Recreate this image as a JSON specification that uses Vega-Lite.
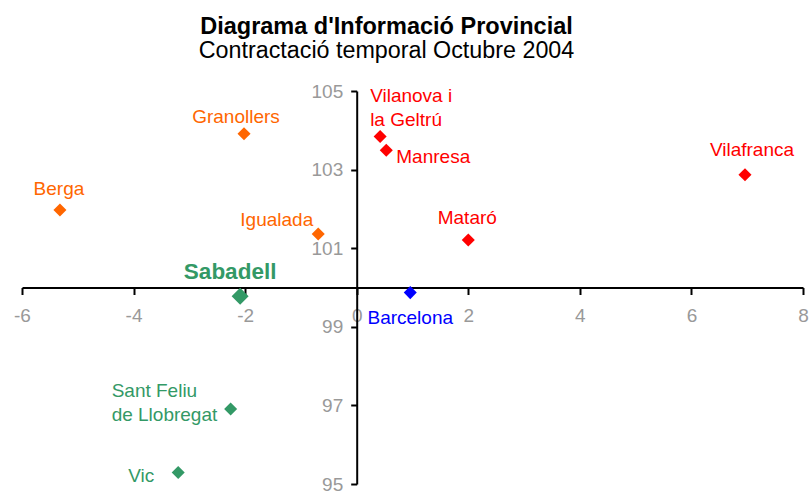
{
  "$schema": "https://vega.github.io/schema/vega-lite/v6.json",
  "width": 781,
  "height": 393,
  "autosize": {"type": "none"},
  "padding": {"left": 22, "top": 91, "right": 8, "bottom": 8},
  "background": "white",
  "title": {
    "text": "Diagrama d'Informació Provincial",
    "subtitle": "Contractació temporal Octubre 2004",
    "font": "Liberation Sans",
    "subtitleFont": "Liberation Sans",
    "fontSize": 23.5,
    "subtitleFontSize": 23.3,
    "fontWeight": "bold",
    "color": "black",
    "subtitleColor": "black",
    "anchor": "middle",
    "frame": "group",
    "dx": -26,
    "offset": 19.5,
    "subtitlePadding": 2
  },
  "config": {"view": {"stroke": null}, "font": "Liberation Sans"},
  "data": {
    "values": [
      {"nom": "Granollers", "x": -2.02, "y": 103.91, "grup": "A"},
      {"nom": "Berga", "x": -5.32, "y": 101.97, "grup": "A"},
      {"nom": "Igualada", "x": -0.69, "y": 101.36, "grup": "A"},
      {"nom": "Vilanova i\nla Geltrú", "x": 0.42, "y": 103.84, "grup": "B"},
      {"nom": "Manresa", "x": 0.53, "y": 103.49, "grup": "B"},
      {"nom": "Mataró", "x": 2.0, "y": 101.21, "grup": "B"},
      {"nom": "Vilafranca", "x": 6.96, "y": 102.87, "grup": "B"},
      {"nom": "Barcelona", "x": 0.96, "y": 99.87, "grup": "C"},
      {"nom": "Sabadell", "x": -2.09, "y": 99.78, "grup": "D"},
      {"nom": "Sant Feliu\nde Llobregat", "x": -2.26, "y": 96.91, "grup": "D"},
      {"nom": "Vic", "x": -3.2, "y": 95.29, "grup": "D"}
    ]
  },
  "encoding": {
    "x": {
      "field": "x",
      "type": "quantitative",
      "scale": {"domain": [-6, 8], "nice": false, "zero": false},
      "axis": {
        "orient": "bottom",
        "offset": -196.5,
        "values": [-6, -4, -2, 0, 2, 4, 6, 8],
        "labelExpr": "replace(datum.label, '\u2212', '-')",
        "grid": false,
        "title": null,
        "domainColor": "black",
        "domainWidth": 2,
        "tickColor": "black",
        "tickWidth": 2,
        "tickSize": 7,
        "labelColor": "#999999",
        "labelFont": "Liberation Sans",
        "labelFontSize": 19,
        "labelPadding": 12,
        "labelFlush": false,
        "labelOverlap": false
      }
    },
    "y": {
      "field": "y",
      "type": "quantitative",
      "scale": {"domain": [95, 105], "nice": false, "zero": false},
      "axis": {
        "orient": "left",
        "offset": -334.7,
        "values": [95, 97, 99, 101, 103, 105],
        "grid": false,
        "title": null,
        "domainColor": "black",
        "domainWidth": 2,
        "tickColor": "black",
        "tickWidth": 2,
        "tickSize": 6,
        "labelColor": "#999999",
        "labelFont": "Liberation Sans",
        "labelFontSize": 19,
        "labelPadding": 8,
        "labelFlush": false,
        "labelOverlap": false
      }
    },
    "color": {
      "field": "grup",
      "type": "nominal",
      "scale": {"domain": ["A", "B", "C", "D"], "range": ["#FF6600", "#FF0000", "#0000FF", "#339966"]},
      "legend": null
    }
  },
  "layer": [
    {
      "transform": [{"filter": "datum.nom !== 'Sabadell'"}],
      "mark": {"type": "point", "shape": "diamond", "filled": true, "opacity": 1, "size": 170}
    },
    {
      "transform": [{"filter": "datum.nom === 'Sabadell'"}],
      "mark": {"type": "point", "shape": "diamond", "filled": true, "opacity": 1, "size": 290}
    },
    {
      "transform": [{"filter": "datum.nom === 'Granollers'"}],
      "mark": {"type": "text", "align": "center", "baseline": "alphabetic", "dx": -8, "dy": -11, "fontSize": 19},
      "encoding": {"text": {"field": "nom"}}
    },
    {
      "transform": [{"filter": "datum.nom === 'Berga'"}],
      "mark": {"type": "text", "align": "center", "baseline": "alphabetic", "dx": -1, "dy": -15, "fontSize": 19},
      "encoding": {"text": {"field": "nom"}}
    },
    {
      "transform": [{"filter": "datum.nom === 'Igualada'"}],
      "mark": {"type": "text", "align": "right", "baseline": "alphabetic", "dx": -5, "dy": -8, "fontSize": 19},
      "encoding": {"text": {"field": "nom"}}
    },
    {
      "transform": [{"filter": "indexof(datum.nom, 'Vilanova') === 0"}],
      "mark": {"type": "text", "align": "left", "baseline": "alphabetic", "dx": -10, "dy": -35, "fontSize": 19, "lineBreak": "\n", "lineHeight": 24},
      "encoding": {"text": {"field": "nom"}}
    },
    {
      "transform": [{"filter": "datum.nom === 'Manresa'"}],
      "mark": {"type": "text", "align": "left", "baseline": "alphabetic", "dx": 10, "dy": 13, "fontSize": 19},
      "encoding": {"text": {"field": "nom"}}
    },
    {
      "transform": [{"filter": "datum.nom === 'Mataró'"}],
      "mark": {"type": "text", "align": "center", "baseline": "alphabetic", "dx": -1, "dy": -16, "fontSize": 19},
      "encoding": {"text": {"field": "nom"}}
    },
    {
      "transform": [{"filter": "datum.nom === 'Vilafranca'"}],
      "mark": {"type": "text", "align": "center", "baseline": "alphabetic", "dx": 7, "dy": -19, "fontSize": 19},
      "encoding": {"text": {"field": "nom"}}
    },
    {
      "transform": [{"filter": "datum.nom === 'Barcelona'"}],
      "mark": {"type": "text", "align": "center", "baseline": "alphabetic", "dx": 0, "dy": 31, "fontSize": 19},
      "encoding": {"text": {"field": "nom"}}
    },
    {
      "transform": [{"filter": "datum.nom === 'Sabadell'"}],
      "mark": {"type": "text", "align": "center", "baseline": "alphabetic", "dx": -10, "dy": -17, "fontSize": 22.5, "fontWeight": "bold"},
      "encoding": {"text": {"field": "nom"}}
    },
    {
      "transform": [{"filter": "indexof(datum.nom, 'Sant Feliu') === 0"}],
      "mark": {"type": "text", "align": "left", "baseline": "alphabetic", "dx": -119, "dy": -12, "fontSize": 19, "lineBreak": "\n", "lineHeight": 24},
      "encoding": {"text": {"field": "nom"}}
    },
    {
      "transform": [{"filter": "datum.nom === 'Vic'"}],
      "mark": {"type": "text", "align": "right", "baseline": "alphabetic", "dx": -24, "dy": 9, "fontSize": 19},
      "encoding": {"text": {"field": "nom"}}
    }
  ]
}
